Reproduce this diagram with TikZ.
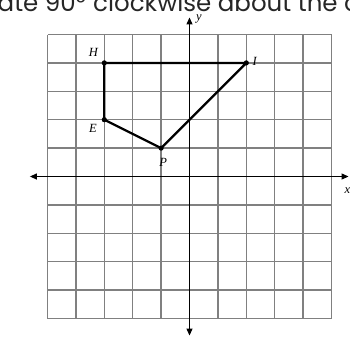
\documentclass[tikz,border=0pt]{standalone}
\usepackage{fontspec}
\setmainfont{Liberation Serif}
\newfontfamily\headfont{Poppins}
\usetikzlibrary{arrows.meta}
\begin{document}
\begin{tikzpicture}[x=1pt,y=-1pt,
  gridline/.style={draw=black!50,line width=1.3pt},
  axisline/.style={draw=black,line width=1.2pt,{Triangle[length=7pt,width=6pt]}-{Triangle[length=7pt,width=6pt]}},
  polyline/.style={draw=black,line width=2.2pt,line join=round},
  vdot/.style={fill=black},
  ptlabel/.style={font=\fontsize{12.5}{14}\selectfont\itshape,inner sep=0pt},
  headtext/.style={font=\headfont\fontsize{24.5}{28}\selectfont,inner sep=0pt,text=black!85}]
\clip (0,0) rectangle (350,338);
\useasboundingbox (0,0) rectangle (350,338);
\fill[white] (0,0) rectangle (350,338);
\node[headtext,anchor=base east] (h1) at (86,11.5) {Rotate 90°};
\node[headtext,anchor=base west] (h2) at (93,11.5) {clockwise about the origin};
\begin{scope}[shift={(189.5,176.5)},x=28.4pt,y=28.4pt]
  \draw[gridline,step=1] (-5,-5) grid (5,5);
  \coordinate (xl) at (-5.62,0);
  \coordinate (xr) at (5.6,0);
  \coordinate (yt) at (0,5.6);
  \coordinate (yb) at (0,-5.6);
  \draw[axisline] (xl) -- (xr);
  \draw[axisline] (yb) -- (yt);
  \coordinate (H) at (-3,4);
  \coordinate (I) at (2,4);
  \coordinate (P) at (-1,1);
  \coordinate (E) at (-3,2);
  \draw[polyline] (H) -- (I) -- (P) -- (E) -- cycle;
  \foreach \p in {H,I,P,E} \fill[vdot] (\p) circle (2.6pt);
  \node[ptlabel] (lH) at (-3.38,4.38) {H};
  \node[ptlabel] (lI) at (2.3,4.04) {I};
  \node[ptlabel] (lE) at (-3.4,1.71) {E};
  \node[ptlabel] (lP) at (-0.93,0.5) {P};
  \node[ptlabel] (ly) at (0.33,5.55) {y};
  \node[ptlabel] (lx) at (5.56,-0.5) {x};
\end{scope}
\end{tikzpicture}
\end{document}
